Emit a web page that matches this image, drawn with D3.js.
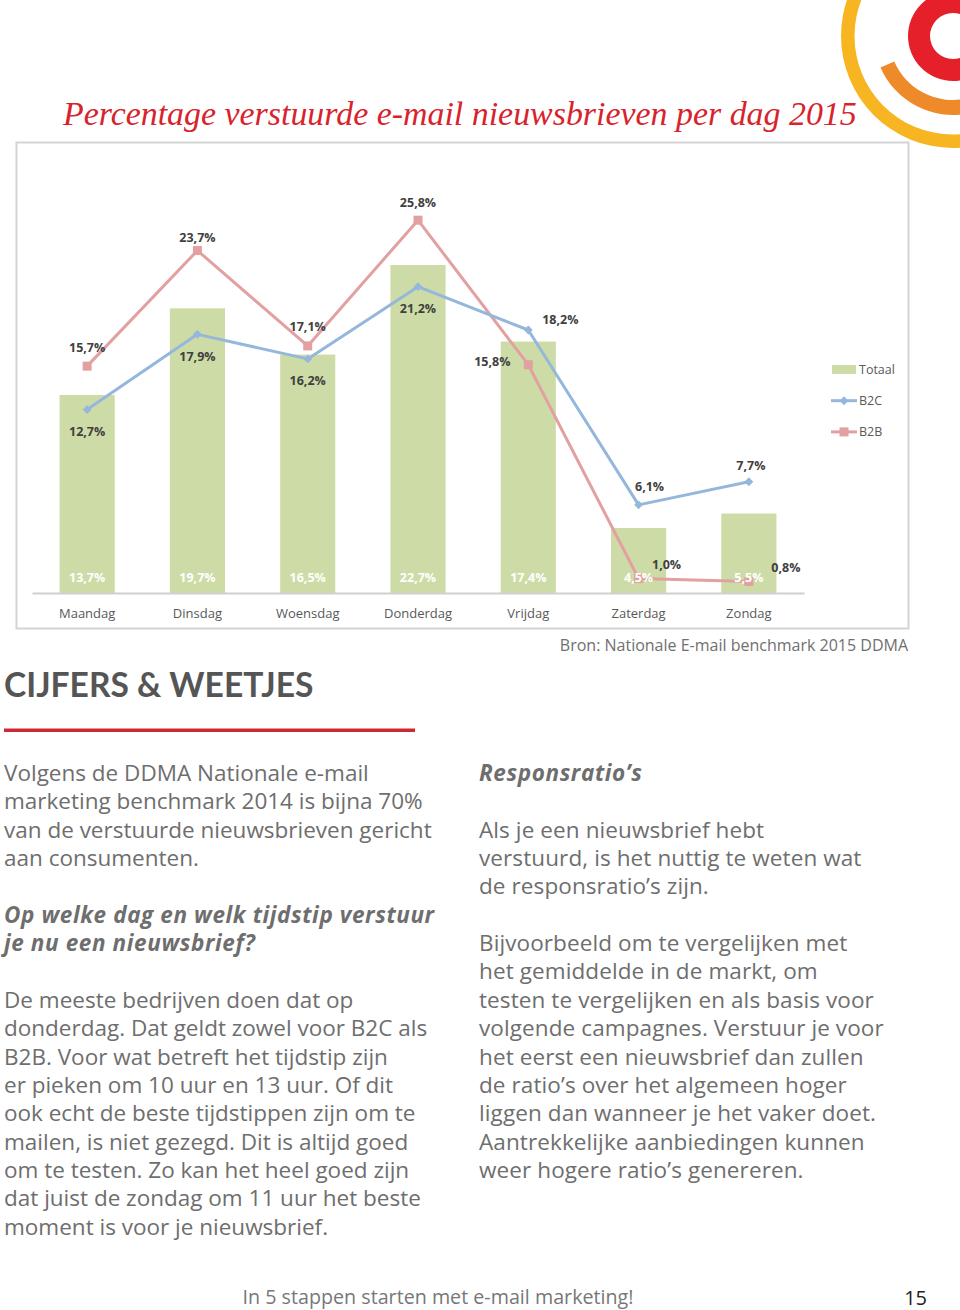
<!DOCTYPE html>
<html><head><meta charset="utf-8">
<script src="https://cdn.jsdelivr.net/npm/d3@7"></script>
<style>html,body{margin:0;padding:0;background:#fff}svg{display:block}</style>
</head><body>
<svg id="c" width="960" height="1310"></svg>
<script>
// ---------- data ----------
const days = ["Maandag","Dinsdag","Woensdag","Donderdag","Vrijdag","Zaterdag","Zondag"];
const totaal = [13.7,19.7,16.5,22.7,17.4,4.5,5.5];
const b2c = [12.7,17.9,16.2,21.2,18.2,6.1,7.7];
const b2b = [15.7,23.7,17.1,25.8,15.8,1.0,0.8];
const seriesNames = ["Totaal","B2C","B2B"];
const yDomain = [0,30];

// ---------- layout / style config ----------
const b2cLabelOffsets = [[0,22],[0,22],[0,22],[0,22],[32,-10],[11,-18],[2,-16]];
const b2bLabelOffsets = [[0,-19],[0,-13],[0,-19],[0,-18],[-36,-3],[28,-14],[37,-14]];
const colors = {Totaal:"#cddca6", B2C:"#95b7dc", B2B:"#e3a0a0"};
const fmt = v => d3.format(".1f")(v).replace(".", ",") + "%";

const svg = d3.select("#c");

// ---------- logo ----------
const logo = svg.append("g").attr("transform","translate(953,36)");
logo.append("path").attr("d", d3.arc()({innerRadius:98.5, outerRadius:112, startAngle:0, endAngle:2*Math.PI})).attr("fill","#f7b522");
logo.append("path").attr("d", d3.arc()({innerRadius:64, outerRadius:79, startAngle:Math.PI*0.5, endAngle:Math.PI*1.37})).attr("fill","#ef8a2a");
logo.append("path").attr("d", d3.arc()({innerRadius:23, outerRadius:45, startAngle:0, endAngle:2*Math.PI})).attr("fill","#e5202b");

// ---------- title ----------
const title = svg.append("text").attr("x",63).attr("y",125)
  .attr("font-family","'Liberation Serif', 'DejaVu Serif', serif").attr("font-style","italic")
  .attr("font-size",32).attr("fill","#d8232d").text("Percentage verstuurde e-mail nieuwsbrieven per dag 2015");
{
  const w = title.node().getComputedTextLength();
  title.attr("font-size", 32 * 794 / w);
}

// ---------- chart frame ----------
svg.append("rect").attr("x",16.5).attr("y",142.5).attr("width",892).attr("height",486)
  .attr("fill","#fff").attr("stroke","#d4d4d4").attr("stroke-width",2);

const x = d3.scaleBand().domain(days).range([32,804]).paddingInner(0.5).paddingOuter(0.25);
const y = d3.scaleLinear().domain(yDomain).range([593,159.5]);
const cx = d => x(d) + x.bandwidth()/2;

// bars
svg.append("g").selectAll("rect").data(days).join("rect")
  .attr("x", d => x(d)).attr("width", x.bandwidth())
  .attr("y", (d,i) => y(totaal[i])).attr("height", (d,i) => y(0) - y(totaal[i]))
  .attr("fill", colors.Totaal);

// x axis
const xAxis = svg.append("g").attr("transform",`translate(0,${y(0)})`)
  .call(d3.axisBottom(x).tickSize(0).tickPadding(15.5));
xAxis.select(".domain").attr("stroke","#d0d0d0").attr("stroke-width",2);
xAxis.selectAll("text").attr("font-family","'Open Sans', sans-serif").attr("font-size",13).attr("fill","#595959");

// lines
const line = vals => d3.line().x((d,i) => cx(days[i])).y(d => y(d))(vals);
svg.append("path").attr("d", line(b2b)).attr("fill","none").attr("stroke",colors.B2B).attr("stroke-width",3).attr("stroke-linejoin","round");
svg.append("path").attr("d", line(b2c)).attr("fill","none").attr("stroke",colors.B2C).attr("stroke-width",3).attr("stroke-linejoin","round");

// markers
svg.append("g").selectAll("rect").data(b2b).join("rect")
  .attr("x",(d,i)=>cx(days[i])-4.5).attr("y",d=>y(d)-4.5).attr("width",9).attr("height",9).attr("fill",colors.B2B);
svg.append("g").selectAll("path").data(b2c).join("path")
  .attr("d", d3.symbol(d3.symbolDiamond2, 50)())
  .attr("transform",(d,i)=>`translate(${cx(days[i])},${y(d)})`).attr("fill",colors.B2C);

// bar labels (on top)
svg.append("g").selectAll("text").data(days).join("text")
  .attr("x", d => cx(d)).attr("y", y(0) - 15).attr("dy","0.35em")
  .attr("text-anchor","middle").attr("font-family","'Open Sans', sans-serif").attr("font-weight","bold")
  .attr("font-size",12.5).attr("fill","#ffffff").text((d,i) => fmt(totaal[i]));

// line labels
function lineLabels(vals, offs){
  svg.append("g").selectAll("text").data(vals).join("text")
    .attr("x",(d,i)=>cx(days[i]) + offs[i][0]).attr("y",(d,i)=>y(d) + offs[i][1]).attr("dy","0.35em")
    .attr("text-anchor","middle").attr("font-family","'Open Sans', sans-serif").attr("font-weight","bold")
    .attr("font-size",12.5).attr("fill","#404040").text(d => fmt(d));
}
lineLabels(b2c, b2cLabelOffsets);
lineLabels(b2b, b2bLabelOffsets);

// legend
const lg = svg.append("g").attr("font-family","'Open Sans', sans-serif").attr("font-size",12.5).attr("fill","#595959");
seriesNames.forEach((n,i) => {
  const ly = 369.5 + i*31.2;
  const g = lg.append("g").attr("transform",`translate(0,${ly})`);
  if (n === "Totaal") {
    g.append("rect").attr("x",832).attr("y",-4.5).attr("width",24).attr("height",9).attr("fill",colors[n]);
  } else {
    g.append("line").attr("x1",831).attr("x2",857).attr("y1",0).attr("y2",0).attr("stroke",colors[n]).attr("stroke-width",3);
    if (n === "B2C") g.append("path").attr("d", d3.symbol(d3.symbolDiamond2, 50)()).attr("transform","translate(844,0)").attr("fill",colors[n]);
    else g.append("rect").attr("x",839.5).attr("y",-4.5).attr("width",9).attr("height",9).attr("fill",colors[n]);
  }
  g.append("text").attr("x",859).attr("y",0).attr("dy","0.35em").text(n);
});

// source
svg.append("text").attr("x",908).attr("y",651).attr("text-anchor","end")
  .attr("font-family","'Open Sans', sans-serif").attr("font-size",16).attr("fill","#707070")
  .text("Bron: Nationale E-mail benchmark 2015 DDMA");

// ---------- article ----------
svg.append("text").attr("x",4).attr("y",697).attr("font-family","Lato, sans-serif").attr("font-weight","bold")
  .attr("font-size",33.6).attr("fill","#555555").text("CIJFERS & WEETJES");
svg.append("rect").attr("x",4).attr("y",728.5).attr("width",411).attr("height",3.5).attr("fill","#cc2a33");

const leftLines = [
  ["Volgens de DDMA Nationale e-mail",0],
  ["marketing benchmark 2014 is bijna 70%",0],
  ["van de verstuurde nieuwsbrieven gericht",0],
  ["aan consumenten.",0],
  ["",0],
  ["Op welke dag en welk tijdstip verstuur",1],
  ["je nu een nieuwsbrief?",1],
  ["",0],
  ["De meeste bedrijven doen dat op",0],
  ["donderdag. Dat geldt zowel voor B2C als",0],
  ["B2B. Voor wat betreft het tijdstip zijn",0],
  ["er pieken om 10 uur en 13 uur. Of dit",0],
  ["ook echt de beste tijdstippen zijn om te",0],
  ["mailen, is niet gezegd. Dit is altijd goed",0],
  ["om te testen. Zo kan het heel goed zijn",0],
  ["dat juist de zondag om 11 uur het beste",0],
  ["moment is voor je nieuwsbrief.",0]
];
const rightLines = [
  ["Responsratio\u2019s",1],
  ["",0],
  ["Als je een nieuwsbrief hebt",0],
  ["verstuurd, is het nuttig te weten wat",0],
  ["de responsratio\u2019s zijn.",0],
  ["",0],
  ["Bijvoorbeeld om te vergelijken met",0],
  ["het gemiddelde in de markt, om",0],
  ["testen te vergelijken en als basis voor",0],
  ["volgende campagnes. Verstuur je voor",0],
  ["het eerst een nieuwsbrief dan zullen",0],
  ["de ratio\u2019s over het algemeen hoger",0],
  ["liggen dan wanneer je het vaker doet.",0],
  ["Aantrekkelijke aanbiedingen kunnen",0],
  ["weer hogere ratio\u2019s genereren.",0]
];
function column(lines, x0, ls){
  const t = svg.append("text").attr("font-family","'Open Sans', sans-serif").attr("font-size",22.5).attr("fill","#6e6e6e");
  lines.forEach((l,i) => {
    if (!l[0]) return;
    const ts = t.append("tspan").attr("x",x0).attr("y",781 + i*28.35).attr("letter-spacing", ls).text(l[0]);
    if (l[1]) ts.attr("font-style","italic").attr("font-weight","bold").attr("letter-spacing",0.6);
  });
}
column(leftLines, 4, 0);
column(rightLines, 479, 0.1);

// footer
svg.append("text").attr("x",438).attr("y",1304).attr("text-anchor","middle")
  .attr("font-family","'Open Sans', sans-serif").attr("font-size",19.7).attr("fill","#777777")
  .text("In 5 stappen starten met e-mail marketing!");
svg.append("text").attr("x",927).attr("y",1305).attr("text-anchor","end")
  .attr("font-family","'Open Sans', sans-serif").attr("font-size",20).attr("fill","#222222").text("15");
</script>
</body></html>
